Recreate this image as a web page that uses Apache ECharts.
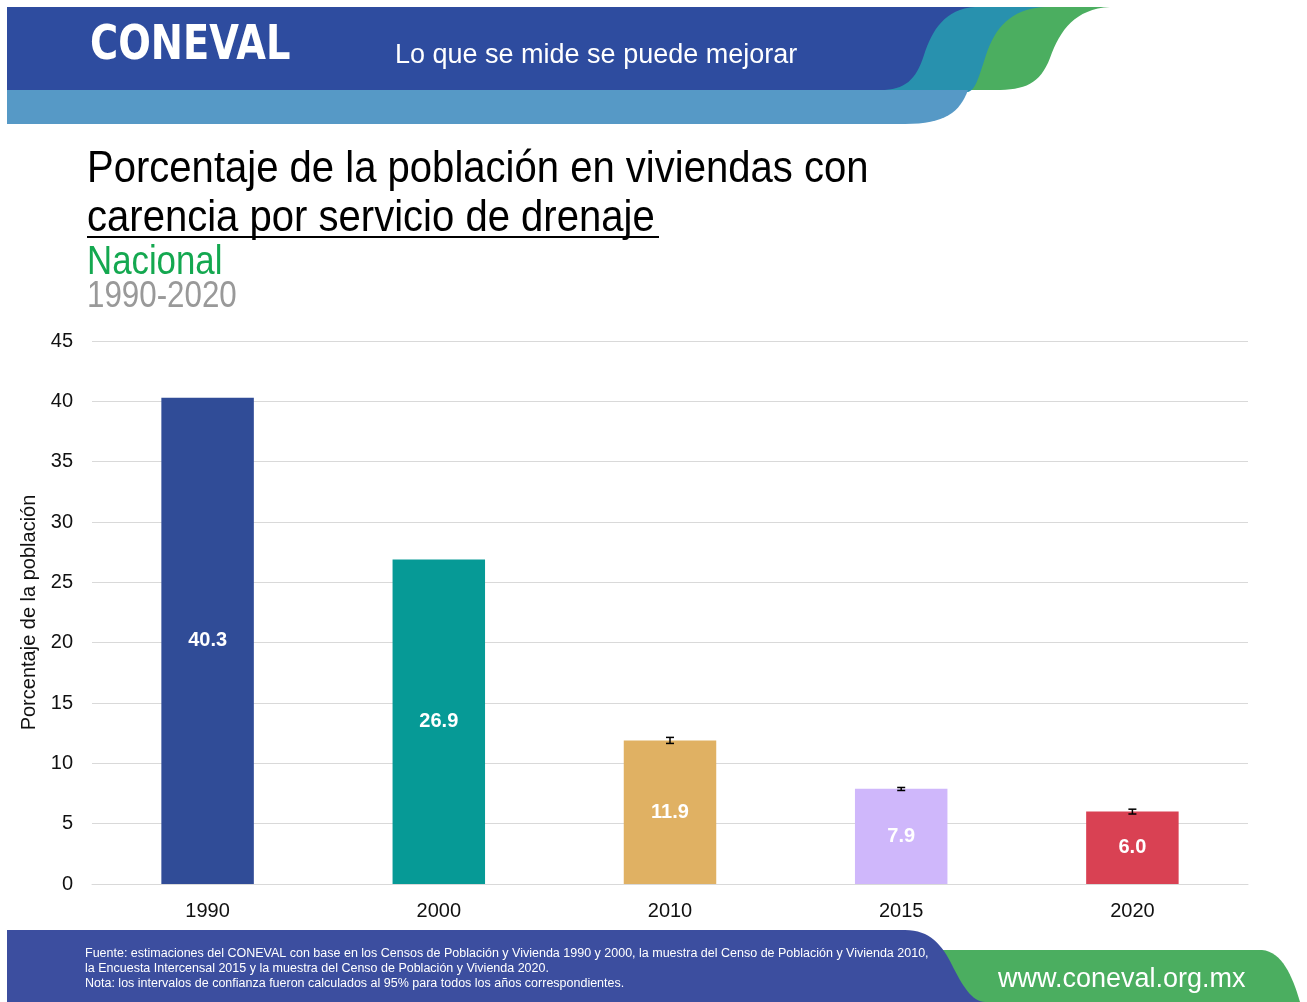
<!DOCTYPE html>
<html>
<head>
<meta charset="utf-8">
<title>Carencia por servicio de drenaje</title>
<script src="https://cdn.jsdelivr.net/npm/echarts@6/dist/echarts.min.js"></script>
<style>
  html, body { margin: 0; padding: 0; background: #fff; }
  #chart { width: 1307px; height: 1002px; }
</style>
</head>
<body>
<div id="chart"></div>
<script>
// data
const years = ['1990', '2000', '2010', '2015', '2020'];
const values = [40.3, 26.9, 11.9, 7.9, 6.0];
const ciLow = [null, null, 11.65, 7.75, 5.8];
const ciHigh = [null, null, 12.15, 8.0, 6.2];
const barColors = ['#304C97', '#069A96', '#E0B163', '#CFB7FB', '#D94153'];
const yTicks = { min: 0, max: 45, interval: 5 };

const footNotes = [
  'Fuente: estimaciones del CONEVAL con base en los Censos de Población y Vivienda 1990 y 2000, la muestra del Censo de Población y Vivienda 2010,',
  'la Encuesta Intercensal 2015 y la muestra del Censo de Población y Vivienda 2020.',
  'Nota: los intervalos de confianza fueron calculados al 95% para todos los años correspondientes.'
];

const errData = years
  .map((y, i) => (ciLow[i] == null ? null : [i, ciLow[i], ciHigh[i]]))
  .filter((d) => d);

const chart = echarts.init(document.getElementById('chart'));

// turn a small svg-like path (M / L / C) into polygon points
function pts(str) {
  const tok = str.trim().split(/[\s,]+/);
  const out = [];
  let i = 0, cx = 0, cy = 0;
  while (i < tok.length) {
    const c = tok[i++];
    if (c === 'M' || c === 'L') {
      cx = +tok[i++]; cy = +tok[i++];
      out.push([cx, cy]);
    } else if (c === 'C') {
      const x1 = +tok[i++], y1 = +tok[i++], x2 = +tok[i++], y2 = +tok[i++], x = +tok[i++], y = +tok[i++];
      for (let k = 1; k <= 16; k++) {
        const t = k / 16, u = 1 - t;
        out.push([
          u * u * u * cx + 3 * u * u * t * x1 + 3 * u * t * t * x2 + t * t * t * x,
          u * u * u * cy + 3 * u * u * t * y1 + 3 * u * t * t * y2 + t * t * t * y
        ]);
      }
      cx = x; cy = y;
    }
  }
  return out;
}

const shape = (d, fill) => ({ type: 'polygon', shape: { points: pts(d) }, style: { fill } });

// header / footer decoration
const deco = [
  shape('M 7 7 L 1110 7 C 1075 9 1060 30 1050 58 C 1040 84 1025 90 995 90 L 7 90', '#4BAE60'),
  shape('M 7 7 L 1045 7 C 1010 9 995 28 986 55 C 978 80 975 90 968 92 L 7 92', '#2891AE'),
  shape('M 7 7 L 975 7 C 945 9 932 30 924 55 C 916 80 905 90 880 90 L 7 90', '#2E4C9F'),
  shape('M 7 90 L 968 90 C 960 112 945 124 905 124 L 7 124', '#5699C6'),
  shape('M 900 950 L 1262 950 C 1282 952 1292 975 1300 1002 L 900 1002', '#4BAE60'),
  shape('M 7 930 L 905 930 C 930 930 942 945 952 965 C 962 985 972 1002 985 1002 L 7 1002', '#3C4E9F')
];

const texts = [
  { type: 'text', x: 90, y: 47, scaleX: 0.8, style: { text: 'CONEVAL', fontSize: 48, fontWeight: 'bold', fontFamily: 'DejaVu Sans', fill: '#fff', textVerticalAlign: 'middle' } },
  { type: 'text', x: 395, y: 56, style: { text: 'Lo que se mide se puede mejorar', fontSize: 27, fontFamily: 'Liberation Sans', fill: '#fff', textVerticalAlign: 'middle' } },
  { type: 'text', x: 87, y: 170, scaleX: 0.89, style: { text: 'Porcentaje de la población en viviendas con', fontSize: 45, fontFamily: 'Liberation Sans', fill: '#000', textVerticalAlign: 'middle' } },
  { type: 'text', x: 87, y: 219, scaleX: 0.89, style: { text: 'carencia por servicio de drenaje', fontSize: 45, fontFamily: 'Liberation Sans', fill: '#000', textVerticalAlign: 'middle' } },
  { type: 'line', shape: { x1: 87, y1: 237, x2: 659, y2: 237 }, style: { stroke: '#000', lineWidth: 2 } },
  { type: 'text', x: 87, y: 263, scaleX: 0.87, style: { text: 'Nacional', fontSize: 40, fontFamily: 'Liberation Sans', fill: '#14A850', textVerticalAlign: 'middle' } },
  { type: 'text', x: 87, y: 297, scaleX: 0.87, style: { text: '1990-2020', fontSize: 36, fontFamily: 'Liberation Sans', fill: '#999999', textVerticalAlign: 'middle' } },
  { type: 'text', x: 998, y: 980, style: { text: 'www.coneval.org.mx', fontSize: 27, fontFamily: 'Liberation Sans', fill: '#fff', textVerticalAlign: 'middle' } }
];
footNotes.forEach((t, i) => {
  texts.push({ type: 'text', x: 85, y: 954 + i * 15, style: { text: t, fontSize: 12.5, fontFamily: 'Liberation Sans', fill: '#fff', textVerticalAlign: 'middle' } });
});

const option = {
  backgroundColor: '#fff',
  animation: false,
  textStyle: { fontFamily: 'Liberation Sans' },
  grid: { left: 92, right: 59, top: 341, bottom: 118 },
  xAxis: {
    type: 'category',
    data: years,
    axisLine: { show: true, lineStyle: { color: '#d9d9d9' } },
    axisTick: { show: false },
    axisLabel: { fontSize: 20, color: '#111', margin: 17 }
  },
  yAxis: {
    type: 'value',
    ...yTicks,
    name: 'Porcentaje de la población',
    nameLocation: 'middle',
    nameGap: 46,
    nameTextStyle: { fontSize: 20, color: '#111' },
    axisLine: { show: false },
    axisTick: { show: false },
    axisLabel: { fontSize: 20, color: '#111', margin: 19 },
    splitLine: { lineStyle: { color: '#d9d9d9' } }
  },
  series: [
    {
      type: 'bar',
      barWidth: '40%',
      data: values.map((v, i) => ({ value: v, itemStyle: { color: barColors[i] } })),
      label: {
        show: true,
        position: 'inside',
        color: '#fff',
        fontSize: 20,
        fontWeight: 'bold',
        formatter: (p) => p.value.toFixed(1)
      }
    },
    {
      type: 'custom',
      data: errData,
      z: 5,
      renderItem: (params, api) => {
        const top = api.coord([api.value(0), api.value(2)]);
        const bot = api.coord([api.value(0), api.value(1)]);
        const half = 4;
        const st = { stroke: '#000', lineWidth: 1.5 };
        return {
          type: 'group',
          children: [
            { type: 'line', shape: { x1: top[0], y1: top[1], x2: bot[0], y2: bot[1] }, style: st },
            { type: 'line', shape: { x1: top[0] - half, y1: top[1], x2: top[0] + half, y2: top[1] }, style: st },
            { type: 'line', shape: { x1: bot[0] - half, y1: bot[1], x2: bot[0] + half, y2: bot[1] }, style: st }
          ]
        };
      }
    }
  ],
  graphic: deco.concat(texts)
};

chart.setOption(option);
</script>
</body>
</html>
